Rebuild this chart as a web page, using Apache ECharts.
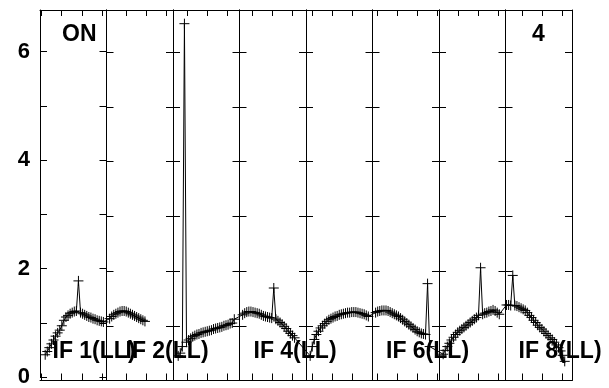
<!DOCTYPE html>
<html><head><meta charset="utf-8">
<script src="https://cdn.jsdelivr.net/npm/echarts@6/dist/echarts.min.js"></script>
<style>html,body{margin:0;padding:0;background:#fff}#c{width:609px;height:388px}</style>
</head><body><div id="c"></div>
<script>
// ---- data ----
const channelsPerPanel = 64;
const panelFirstChannel = [5, 3, 5, 3, 4, 3, 4, 1];
const channelStep = 2;
const if1 = [0.47,0.53,0.60,0.67,0.74,0.81,0.87,0.92,1.00,1.10,1.16,1.19,1.22,1.24,1.26,1.27,1.82,1.24,1.22,1.20,1.18,1.16,1.15,1.13,1.12,1.10,1.09,1.08,1.07];
const if2 = [1.13,1.17,1.20,1.22,1.24,1.26,1.27,1.27,1.26,1.24,1.22,1.20,1.18,1.16,1.14,1.12,1.10,1.08];
const if3 = [0.45,0.50,0.62,6.52,0.70,0.74,0.77,0.80,0.82,0.84,0.85,0.87,0.88,0.89,0.90,0.91,0.92,0.94,0.95,0.96,0.97,0.98,1.00,1.01,1.02,1.04,1.05,1.12];
const if4 = [1.20,1.23,1.25,1.26,1.26,1.25,1.24,1.23,1.22,1.20,1.18,1.17,1.16,1.15,1.14,1.69,1.12,1.09,1.06,1.03,0.99,0.95,0.90,0.86,0.82,0.78];
const if5 = [0.45,0.62,0.75,0.84,0.90,0.96,1.00,1.04,1.08,1.11,1.13,1.15,1.17,1.18,1.20,1.21,1.22,1.23,1.24,1.24,1.25,1.25,1.25,1.24,1.23,1.22,1.21,1.19,1.17];
const if6 = [1.24,1.26,1.27,1.28,1.28,1.28,1.27,1.25,1.23,1.21,1.19,1.17,1.14,1.11,1.08,1.05,1.02,0.99,0.96,0.93,0.90,0.88,0.86,0.85,0.84,1.77,0.62];
const if7 = [0.48,0.55,0.62,0.68,0.74,0.79,0.84,0.88,0.91,0.94,0.97,1.00,1.03,1.06,1.09,1.12,1.15,1.19,2.06,1.21,1.23,1.24,1.26,1.27,1.29,1.27,1.24,1.21];
const if8 = [1.38,1.38,1.37,1.92,1.37,1.36,1.34,1.32,1.30,1.28,1.24,1.19,1.15,1.10,1.06,1.01,0.97,0.94,0.90,0.86,0.82,0.78,0.75,0.70,0.65,0.60,0.54,0.46,0.35];
const panelValues = [if1, if2, if3, if4, if5, if6, if7, if8];
const panelGapAfter = [1]; // line not connected after IF 2
const panelTicks = [[1.6,20.9,40.2,59.5],[19.3,38.5,57.8],[13.5,32.7,52],[11.8,31.5,50.7],[6.4,25.6,44.8],[4.2,23.5,42.7,62.5],[18.3,37.5,56.8],[15.8,35.6,54.9]];
const yTicks = [0,1,2,3,4,5,6];
const yLabels = [0,2,4,6];
const yMax = 6.77;
const panelLabels = ['IF 1(LL)','IF 2(LL)','IF 4(LL)','IF 6(LL)','IF 8(LL)'];
const cornerLeft = 'ON', cornerRight = '4';

// ---- build ----
const nP = panelValues.length;
const data = [];
panelValues.forEach((vals, k) => {
  vals.forEach((v, i) => data.push([k*channelsPerPanel + panelFirstChannel[k] + channelStep*i, v]));
  if (panelGapAfter.includes(k)) data.push([(k+1)*channelsPerPanel, null]);
});
const globalTicks = [];
panelTicks.forEach((t, k) => t.forEach(c => globalTicks.push(k*channelsPerPanel + c)));

const L = 40, R = 572, TOP = 10, BOT = 7.5, W = 609;
const pw = (R - L) / nP;
const font = 'Liberation Sans, Arial, Helvetica, sans-serif';
const grids = [{left: L, right: W - R, top: TOP, bottom: BOT}];
const xAxes = [
  {gridIndex:0, type:'value', min:0, max:nP*channelsPerPanel, position:'bottom',
   axisLine:{show:true, lineStyle:{color:'#000', width:1}},
   axisTick:{show:true, inside:true, length:7, customValues:globalTicks, lineStyle:{color:'#000'}},
   axisLabel:{show:false}, splitLine:{show:false}},
  {gridIndex:0, type:'value', min:0, max:nP*channelsPerPanel, position:'top',
   axisLine:{show:true, lineStyle:{color:'#000', width:1}},
   axisTick:{show:true, inside:true, length:6, customValues:globalTicks, lineStyle:{color:'#000'}},
   axisLabel:{show:false}, splitLine:{show:false}}
];
const yAxes = [{gridIndex:0, type:'value', min:0, max:yMax, show:false}];
for (let k = 0; k < nP; k++) {
  grids.push({left: L + k*pw, width: pw, top: TOP, bottom: BOT});
  xAxes.push({gridIndex:k+1, type:'value', min:0, max:1, show:false});
  ['left','right'].forEach(pos => {
    yAxes.push({gridIndex:k+1, type:'value', position:pos, min:0, max:yMax,
      axisLine:{show:true, lineStyle:{color:'#000', width:1}},
      axisTick:{show:true, inside:true, length:7, customValues:yTicks, lineStyle:{color:'#000'}},
      axisLabel:{show:(k===0 && pos==='left'), customValues:yLabels, margin:10,
        color:'#000', fontSize:22, fontWeight:'bold', fontFamily:font},
      splitLine:{show:false}});
  });
}
const labelX = [52.5, 125.5, 253.5, 386, 518.5];
const graphics = panelLabels.map((t, i) => ({type:'text', x:labelX[i], y:351.5, z:100,
  style:{text:t, fill:'#000', font:'bold 23px ' + font, verticalAlign:'middle', align:'left'}}));
graphics.push({type:'text', x:62, y:35, z:100, style:{text:cornerLeft, fill:'#000', font:'bold 23px ' + font, verticalAlign:'middle'}});
graphics.push({type:'text', x:532, y:35, z:100, style:{text:cornerRight, fill:'#000', font:'bold 23px ' + font, verticalAlign:'middle'}});

const chart = echarts.init(document.getElementById('c'), null, {renderer:'canvas'});
chart.setOption({
  animation:false, backgroundColor:'#fff',
  grid:grids, xAxis:xAxes, yAxis:yAxes,
  series:[{type:'line', xAxisIndex:0, yAxisIndex:0, data:data, silent:true,
    connectNulls:false, showAllSymbol:true,
    symbol:'path://M0,5L10,5M5,0L5,10', symbolSize:10,
    itemStyle:{color:'#000', borderColor:'#000', borderWidth:1},
    lineStyle:{color:'#000', width:1}}],
  graphic:graphics
});
</script></body></html>
